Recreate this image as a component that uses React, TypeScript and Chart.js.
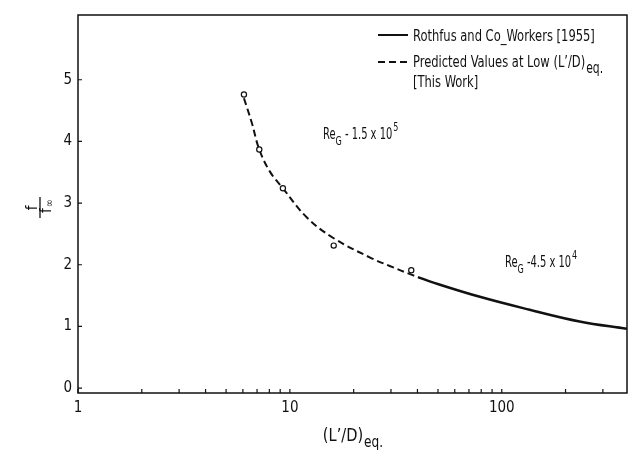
import React, { useEffect, useRef } from "react";
import { Chart, registerables } from "chart.js";

Chart.register(...registerables);

const FONT =
  "'Liberation Sans Narrow', 'DejaVu Sans Condensed', 'Roboto Condensed', 'Liberation Sans', sans-serif";
const INK = "#111";

// Measured points (circles)
const measuredX = [6.07, 7.17, 9.27, 16.1, 37.4];
const measuredY = [4.76, 3.87, 3.24, 2.31, 1.91];

// Predicted values at low (L'/D)eq (dashed curve)
const predictedX = [6.07, 6.6, 7.17, 8.05, 9.27, 12.0, 16.1, 23.8, 29.6, 37.4, 40.2];
const predictedY = [4.7, 4.31, 3.87, 3.51, 3.24, 2.77, 2.43, 2.12, 1.98, 1.84, 1.8];

// Rothfus and Co-Workers [1955] (solid curve)
const rothfusX = [40.2, 45.7, 78.8, 135.5, 233, 390];
const rothfusY = [1.8, 1.73, 1.48, 1.27, 1.08, 0.96];

// Axis ticks
const xTicks = [1, 2, 3, 4, 5, 6, 7, 8, 9, 10, 20, 30, 40, 50, 60, 70, 80, 90, 100, 200, 300];
const xLabeled = [1, 10, 100];
const yTicks = [0, 1, 2, 3, 4, 5];

const X_MIN = 1;
const X_MAX = 390;
const Y_MIN = -0.08;
const Y_MAX = 6.05;

// Texts
const legendSolid = "Rothfus and Co_Workers [1955]";
const legendDashed = "Predicted Values at Low (L’/D)";
const legendDashedSub = "eq.";
const legendDashed2 = "[This Work]";
const annoHigh = ["Re", "G", " - 1.5 x 10", "5"];
const annoLow = ["Re", "G", " -4.5 x 10", "4"];
const xTitle = ["(L’/D)", "eq."];

const toPts = (xs: number[], ys: number[]) => xs.map((x, i) => ({ x, y: ys[i] }));

function font(size: number) {
  return `${size}px ${FONT}`;
}

function put(
  ctx: CanvasRenderingContext2D,
  s: string,
  x: number,
  y: number,
  size: number,
  sx = 1
) {
  ctx.font = font(size);
  ctx.save();
  ctx.translate(x, y);
  ctx.scale(sx, 1);
  ctx.fillText(s, 0, 0);
  ctx.restore();
  return ctx.measureText(s).width * sx;
}

function drawRe(ctx: CanvasRenderingContext2D, parts: string[], x: number, y: number) {
  const sx = 0.69;
  let cx = x;
  cx += put(ctx, parts[0], cx, y, 16, sx);
  cx += put(ctx, parts[1], cx, y + 6, 13, sx);
  cx += put(ctx, parts[2], cx, y, 16, sx);
  put(ctx, parts[3], cx + 1, y - 8, 13, sx);
}

const decor = {
  id: "decor",
  afterDraw(chart: any) {
    const ctx: CanvasRenderingContext2D = chart.ctx;
    const { left, right, top, bottom } = chart.chartArea;
    const xs = chart.scales.x;
    const ys = chart.scales.y;
    ctx.save();
    ctx.strokeStyle = INK;
    ctx.fillStyle = INK;
    ctx.lineWidth = 1.5;
    ctx.strokeRect(left, top, right - left, bottom - top);

    // inward tick marks
    ctx.lineWidth = 1.2;
    ctx.beginPath();
    xs.ticks.forEach((t: any) => {
      const px = xs.getPixelForValue(t.value);
      ctx.moveTo(px, bottom);
      ctx.lineTo(px, bottom - 4);
    });
    ys.ticks.forEach((t: any) => {
      const py = ys.getPixelForValue(t.value);
      ctx.moveTo(left, py);
      ctx.lineTo(left + 4, py);
    });
    ctx.stroke();

    // legend
    ctx.textBaseline = "alphabetic";
    ctx.textAlign = "left";
    const lsx = 0.8;
    ctx.lineWidth = 2;
    ctx.setLineDash([]);
    ctx.beginPath();
    ctx.moveTo(378, 35);
    ctx.lineTo(408, 35);
    ctx.stroke();
    put(ctx, legendSolid, 413, 41, 16, lsx);

    ctx.setLineDash([7, 4]);
    ctx.beginPath();
    ctx.moveTo(378, 62);
    ctx.lineTo(408, 62);
    ctx.stroke();
    ctx.setLineDash([]);
    const w = put(ctx, legendDashed, 413, 67, 16, lsx);
    put(ctx, legendDashedSub, 413 + w + 1, 73, 15, lsx);
    put(ctx, legendDashed2, 413, 87, 16, lsx);

    // annotations
    drawRe(ctx, annoHigh, 323, 139);
    drawRe(ctx, annoLow, 505, 267);

    // x title
    const tsx = 0.9;
    ctx.font = font(18);
    const w1 = ctx.measureText(xTitle[0]).width * tsx;
    ctx.font = font(15);
    const w2 = ctx.measureText(xTitle[1]).width * tsx;
    const cx = (left + right) / 2 - (w1 + w2) / 2;
    put(ctx, xTitle[0], cx, 441, 18, tsx);
    put(ctx, xTitle[1], cx + w1 + 1, 447, 15, tsx);

    // y title: f / f∞ rotated
    ctx.translate(40, 208);
    ctx.rotate(-Math.PI / 2);
    ctx.font = font(15);
    const nw = ctx.measureText("f").width;
    put(ctx, "f", -nw / 2, -3, 15);
    ctx.lineWidth = 1.3;
    ctx.beginPath();
    ctx.moveTo(-10, 0);
    ctx.lineTo(11, 0);
    ctx.stroke();
    const fw = put(ctx, "f", -5, 11, 15);
    put(ctx, "∞", -5 + fw + 1, 13, 11);
    ctx.restore();
  },
};

export default function App() {
  const ref = useRef<HTMLCanvasElement | null>(null);

  useEffect(() => {
    document.body.style.margin = "0";
    const canvas = ref.current;
    if (!canvas) return;
    const chart = new Chart(canvas, {
      type: "scatter",
      data: {
        datasets: [
          {
            type: "scatter",
            data: toPts(measuredX, measuredY),
            pointRadius: 2.6,
            pointBorderWidth: 1.2,
            pointBackgroundColor: "#fff",
            pointBorderColor: INK,
            showLine: false,
          } as any,
          {
            type: "line",
            data: toPts(predictedX, predictedY),
            borderColor: INK,
            borderWidth: 2,
            borderDash: [7, 4],
            pointRadius: 0,
            tension: 0.4,
            fill: false,
          } as any,
          {
            type: "line",
            data: toPts(rothfusX, rothfusY),
            borderColor: INK,
            borderWidth: 2.5,
            pointRadius: 0,
            tension: 0.4,
            fill: false,
          } as any,
        ],
      },
      options: {
        responsive: false,
        animation: false,
        devicePixelRatio: 1,
        layout: { padding: { top: 7, right: 8, left: 0, bottom: 0 } },
        plugins: { legend: { display: false }, tooltip: { enabled: false } },
        scales: {
          x: {
            type: "logarithmic",
            min: X_MIN,
            max: X_MAX,
            grid: { display: false, drawTicks: false },
            border: { display: false },
            afterBuildTicks: (s: any) => {
              s.ticks = xTicks.map((v) => ({ value: v }));
            },
            afterFit: (s: any) => {
              s.height = 66;
            },
            ticks: {
              autoSkip: false,
              maxRotation: 0,
              padding: 6,
              color: INK,
              font: { family: FONT, size: 15 },
              callback: (v: any) => (xLabeled.includes(Number(v)) ? String(v) : ""),
            },
          },
          y: {
            type: "linear",
            min: Y_MIN,
            max: Y_MAX,
            grid: { display: false, drawTicks: false },
            border: { display: false },
            afterBuildTicks: (s: any) => {
              s.ticks = yTicks.map((v) => ({ value: v }));
            },
            afterFit: (s: any) => {
              s.width = 78;
            },
            ticks: {
              padding: 6,
              color: INK,
              font: { family: FONT, size: 15 },
              callback: (v: any) => String(v),
            },
          },
        },
      } as any,
      plugins: [decor],
    });
    return () => chart.destroy();
  }, []);

  return (
    <div style={{ width: 635, height: 459, background: "#fff" }}>
      <canvas ref={ref} width={635} height={459} style={{ display: "block" }} />
    </div>
  );
}
